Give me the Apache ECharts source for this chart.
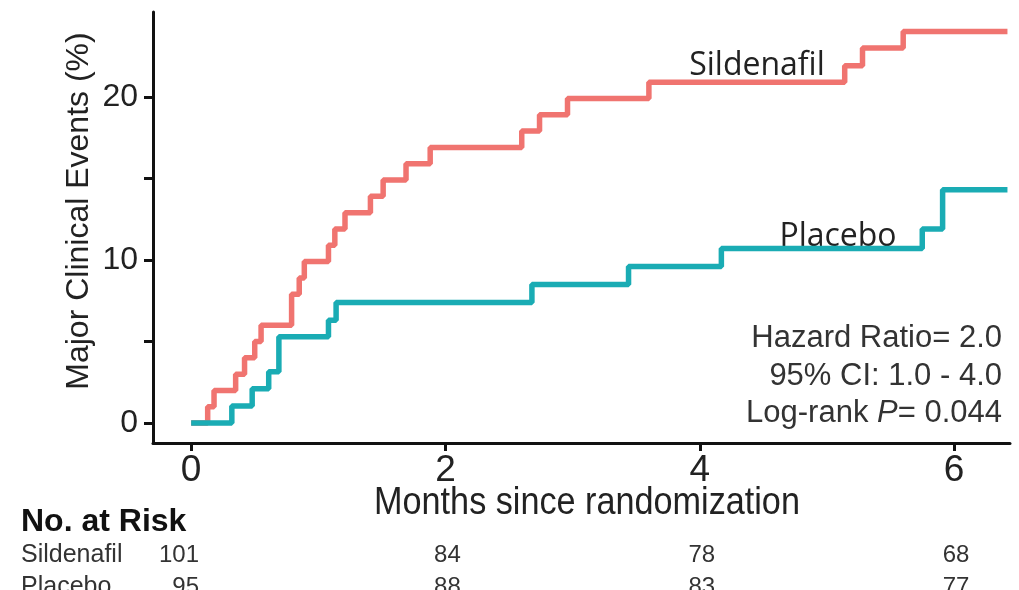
<!DOCTYPE html>
<html>
<head>
<meta charset="utf-8">
<script src="https://cdn.jsdelivr.net/npm/echarts@6/dist/echarts.min.js"></script>
<style>
html,body{margin:0;padding:0;background:#fff;}
#chart{width:1019px;height:590px;}
</style>
</head>
<body>
<div id="chart"></div>
<script>
// ---- data ----
const silTimes  = [0, 0.13, 0.18, 0.35, 0.42, 0.50, 0.55, 0.79, 0.85, 0.89, 1.08, 1.13, 1.21, 1.41, 1.51, 1.69, 1.88, 2.60, 2.74, 2.96, 3.60, 5.14, 5.28, 5.60, 6.42];
const silValues = [0, 1.0, 2.0, 3.0, 4.0, 5.0, 6.0, 7.9, 8.9, 9.9, 10.9, 11.9, 12.9, 13.9, 14.9, 15.9, 16.9, 17.9, 18.9, 19.9, 20.9, 21.9, 23.0, 24.0, 24.0];
const placTimes  = [0, 0.32, 0.48, 0.61, 0.69, 1.08, 1.14, 2.68, 3.44, 4.17, 5.75, 5.91, 6.42];
const placValues = [0, 1.05, 2.1, 3.15, 5.3, 6.3, 7.4, 8.5, 9.6, 10.7, 11.9, 14.3, 14.3];
const xTickValues = [0, 2, 4, 6];
const yTickValues = [0, 5, 10, 15, 20];
const yLabelValues = [0, 10, 20];
const riskTimes = [0, 2, 4, 6];
const riskSildenafil = [101, 84, 78, 68];
const riskPlacebo = [95, 88, 83, 77];
const seriesNames = ['Sildenafil', 'Placebo'];
const statsLines = ['Hazard Ratio= 2.0', '95% CI: 1.0 - 4.0'];
const xTitle = 'Months since randomization';
const yTitle = 'Major Clinical Events (%)';

const RED = '#F07470', TEAL = '#1AACB4';
const SANS = '"Liberation Sans", Arial, sans-serif';

const chart = echarts.init(document.getElementById('chart'), null, {renderer: 'canvas'});

const zip = (a, b) => a.map((v, i) => [v, b[i]]);

chart.setOption({
  animation: false,
  backgroundColor: '#fff',
  grid: {left: 153, right: 9, top: 12, bottom: 147},
  xAxis: {
    type: 'value', min: -0.3, max: 6.44,
    splitLine: {show: false},
    axisLine: {onZero: false, lineStyle: {color: '#111', width: 3}},
    axisTick: {show: true, length: 8, lineStyle: {color: '#111', width: 3}, customValues: xTickValues},
    axisLabel: {customValues: xTickValues, fontSize: 37, fontFamily: SANS, color: '#222', margin: 9}
  },
  yAxis: {
    type: 'value', min: -1.22, max: 25.2,
    splitLine: {show: false},
    axisLine: {show: true, onZero: false, lineStyle: {color: '#111', width: 3}},
    axisTick: {show: true, length: 9, lineStyle: {color: '#111', width: 3}, customValues: yTickValues},
    axisLabel: {customValues: yLabelValues, fontSize: 32, fontFamily: SANS, color: '#222', margin: 15}
  },
  series: [
    {name: seriesNames[0], type: 'line', step: 'end', showSymbol: false, symbol: 'none',
     data: zip(silTimes, silValues), lineStyle: {color: RED, width: 5.5}, z: 2},
    {name: seriesNames[1], type: 'line', step: 'end', showSymbol: false, symbol: 'none',
     data: zip(placTimes, placValues), lineStyle: {color: TEAL, width: 5.5}, z: 3}
  ]
});

const px = (t) => chart.convertToPixel({xAxisIndex: 0}, t);

const graphics = [];
// axis titles
graphics.push({type: 'text', x: 587, y: 504, scaleX: 0.9, style: {text: xTitle, font: '38px ' + SANS, fill: '#222', textAlign: 'center', textVerticalAlign: 'middle'}});
graphics.push({type: 'text', x: 79, y: 211, rotation: Math.PI / 2, style: {text: yTitle, font: '32px ' + SANS, fill: '#222', textAlign: 'center', textVerticalAlign: 'middle'}});
// curve labels
graphics.push({type: 'text', x: 757, y: 66, style: {text: seriesNames[0], font: '32px "Open Sans", sans-serif', fill: '#222', textAlign: 'center', textVerticalAlign: 'middle'}});
graphics.push({type: 'text', x: 838, y: 237, style: {text: seriesNames[1], font: '32px "Open Sans", sans-serif', fill: '#222', textAlign: 'center', textVerticalAlign: 'middle'}});
// stats
statsLines.forEach((s, i) => {
  graphics.push({type: 'text', x: 1002, y: 338 + i * 38, style: {text: s, font: '31px ' + SANS, fill: '#333', textAlign: 'right', textVerticalAlign: 'middle'}});
});
graphics.push({type: 'text', x: 1002, y: 413, style: {
  text: '{n|Log-rank }{i|P}{n|= 0.044}', textAlign: 'right', textVerticalAlign: 'middle',
  rich: {n: {font: '31px ' + SANS, fill: '#333'}, i: {font: 'italic 31px ' + SANS, fill: '#333'}}
}});
// risk table
graphics.push({type: 'text', x: 21, y: 522, style: {text: 'No. at Risk', font: 'bold 32px ' + SANS, fill: '#111', textAlign: 'left', textVerticalAlign: 'middle'}});
const rows = [[seriesNames[0], riskSildenafil, 555], [seriesNames[1], riskPlacebo, 587]];
rows.forEach(([name, vals, y]) => {
  graphics.push({type: 'text', x: 21, y: y, style: {text: name, font: '25px ' + SANS, fill: '#333', textAlign: 'left', textVerticalAlign: 'middle'}});
  vals.forEach((v, i) => {
    const x = px(riskTimes[i]);
    graphics.push({type: 'text', x: i === 0 ? 199 : x + 2, y: y, style: {text: String(v), font: '24px ' + SANS, fill: '#333', textAlign: i === 0 ? 'right' : 'center', textVerticalAlign: 'middle'}});
  });
});
chart.setOption({graphic: {elements: graphics}});
</script>
</body>
</html>
